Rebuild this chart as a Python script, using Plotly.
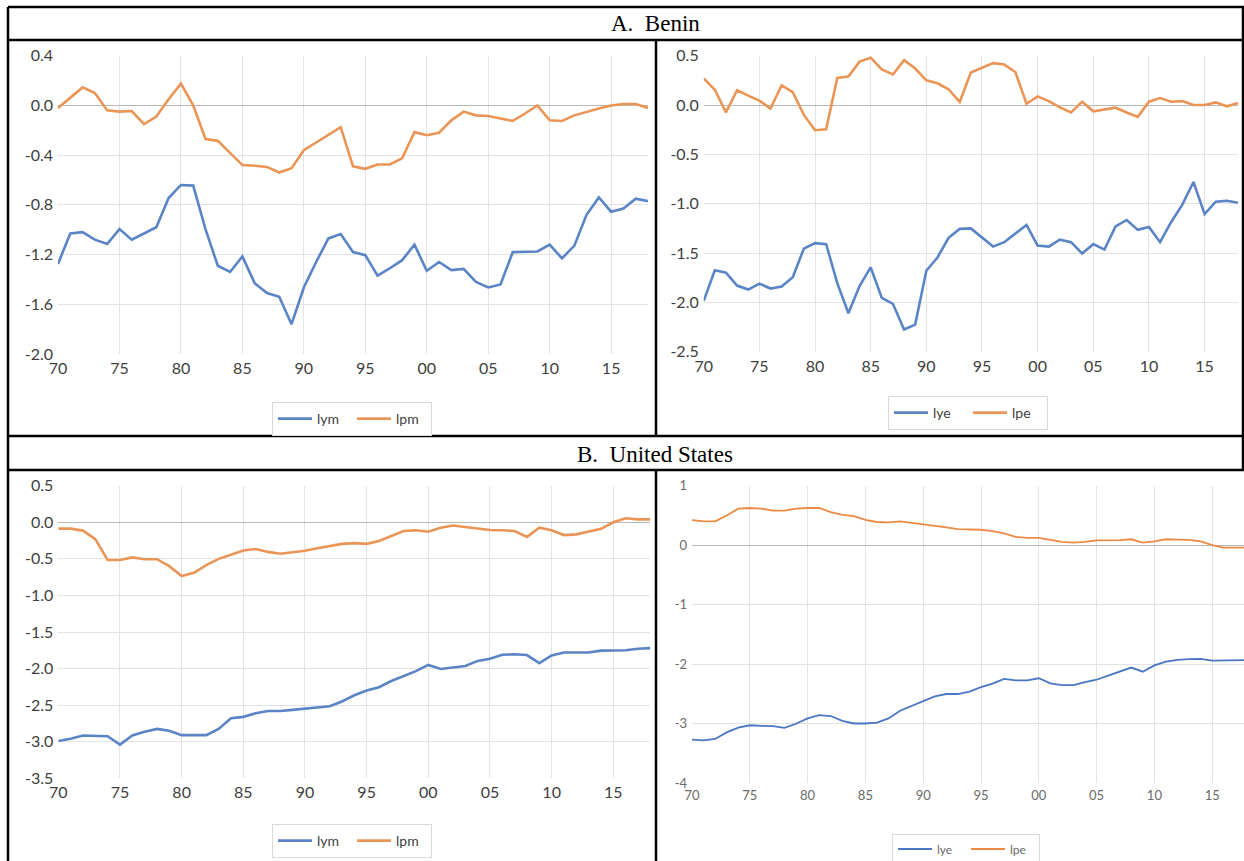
import plotly.graph_objects as go

W, H = 1244, 861

years = list(range(1970, 2019))

# Panel A (Benin), left: lym / lpm
benin_lym = [-1.275, -1.03, -1.02, -1.08, -1.115, -0.995, -1.08, -1.03, -0.98, -0.745,
             -0.64, -0.645, -0.995, -1.29, -1.34, -1.215, -1.43, -1.51, -1.54, -1.76,
             -1.465, -1.26, -1.07, -1.035, -1.18, -1.205, -1.37, -1.31, -1.245, -1.12,
             -1.33, -1.26, -1.325, -1.315, -1.42, -1.465, -1.44, -1.18, -1.175, -1.175,
             -1.12, -1.23, -1.13, -0.88, -0.74, -0.855, -0.83, -0.75, -0.77]
benin_lpm = [-0.02, 0.065, 0.145, 0.10, -0.04, -0.05, -0.045, -0.15, -0.09, 0.05,
             0.175, 0.0, -0.27, -0.285, -0.38, -0.48, -0.485, -0.495, -0.54, -0.505,
             -0.36, -0.30, -0.24, -0.175, -0.49, -0.51, -0.475, -0.475, -0.425, -0.215,
             -0.24, -0.22, -0.12, -0.05, -0.08, -0.085, -0.105, -0.125, -0.065, 0.0,
             -0.12, -0.125, -0.08, -0.05, -0.025, 0.0, 0.012, 0.012, -0.02]

# Panel A (Benin), right: lye / lpe
benin_lye = [-1.985, -1.675, -1.70, -1.83, -1.87, -1.81, -1.86, -1.84, -1.745, -1.455,
             -1.40, -1.41, -1.805, -2.11, -1.835, -1.645, -1.955, -2.015, -2.275, -2.225,
             -1.68, -1.545, -1.345, -1.255, -1.25, -1.345, -1.435, -1.39, -1.305, -1.215,
             -1.425, -1.435, -1.365, -1.39, -1.505, -1.41, -1.465, -1.23, -1.165, -1.265,
             -1.235, -1.39, -1.185, -1.01, -0.78, -1.105, -0.98, -0.97, -0.99]
benin_lpe = [0.27, 0.155, -0.075, 0.15, 0.095, 0.045, -0.035, 0.20, 0.13, -0.10,
             -0.255, -0.245, 0.275, 0.29, 0.44, 0.48, 0.36, 0.31, 0.455, 0.37,
             0.25, 0.22, 0.16, 0.03, 0.33, 0.38, 0.425, 0.41, 0.335, 0.013,
             0.088, 0.04, -0.024, -0.075, 0.034, -0.064, -0.044, -0.027, -0.075, -0.12,
             0.034, 0.07, 0.034, 0.04, 0.0, 0.0, 0.027, -0.013, 0.02]

# Panel B (United States), left: lym / lpm
us_lym = [-2.99, -2.96, -2.915, -2.915, -2.925, -3.04, -2.915, -2.865, -2.825, -2.85,
          -2.91, -2.91, -2.91, -2.825, -2.68, -2.66, -2.61, -2.58, -2.58, -2.565,
          -2.55, -2.54, -2.515, -2.45, -2.365, -2.30, -2.255, -2.17, -2.105, -2.035,
          -1.95, -2.005, -1.985, -1.965, -1.895, -1.865, -1.81, -1.805, -1.815, -1.925,
          -1.82, -1.78, -1.78, -1.78, -1.755, -1.75, -1.75, -1.73, -1.72]
us_lpm = [-0.087, -0.087, -0.114, -0.23, -0.515, -0.515, -0.48, -0.505, -0.505, -0.60,
          -0.735, -0.69, -0.585, -0.50, -0.445, -0.385, -0.365, -0.405, -0.43, -0.41,
          -0.39, -0.355, -0.325, -0.295, -0.285, -0.295, -0.255, -0.19, -0.12, -0.11,
          -0.13, -0.075, -0.045, -0.065, -0.09, -0.105, -0.11, -0.12, -0.20, -0.075,
          -0.11, -0.175, -0.165, -0.125, -0.09, 0.0, 0.055, 0.04, 0.04]

# Panel B (United States), right: lye / lpe
us_lye = [-3.265, -3.28, -3.255, -3.145, -3.065, -3.025, -3.035, -3.04, -3.07, -3.0,
          -2.91, -2.855, -2.87, -2.95, -2.995, -2.995, -2.98, -2.91, -2.78, -2.70,
          -2.61, -2.54, -2.50, -2.50, -2.46, -2.385, -2.325, -2.245, -2.27, -2.27,
          -2.235, -2.32, -2.35, -2.35, -2.30, -2.26, -2.19, -2.125, -2.055, -2.125,
          -2.02, -1.955, -1.925, -1.915, -1.91, -1.94, -1.935, -1.935, -1.93]
us_lpe = [0.42, 0.40, 0.40, 0.50, 0.615, 0.625, 0.615, 0.58, 0.58, 0.615,
          0.625, 0.625, 0.555, 0.51, 0.49, 0.425, 0.39, 0.385, 0.40, 0.375,
          0.36, 0.325, 0.30, 0.27, 0.27, 0.26, 0.235, 0.20, 0.14, 0.125,
          0.125, 0.09, 0.055, 0.045, 0.055, 0.08, 0.08, 0.085, 0.10, 0.045,
          0.065, 0.10, 0.095, 0.09, 0.065, 0.0, -0.04, -0.04, -0.04]

x_tickvals = [1970, 1975, 1980, 1985, 1990, 1995, 2000, 2005, 2010, 2015]
x_ticktext = ["70", "75", "80", "85", "90", "95", "00", "05", "10", "15"]

y1_vals = [0.4, 0.0, -0.4, -0.8, -1.2, -1.6, -2.0]
y1_text = ["0.4", "0.0", "-0.4", "-0.8", "-1.2", "-1.6", "-2.0"]
y2_vals = [0.5, 0.0, -0.5, -1.0, -1.5, -2.0, -2.5]
y2_text = ["0.5", "0.0", "-0.5", "-1.0", "-1.5", "-2.0", "-2.5"]
y3_vals = [0.5, 0.0, -0.5, -1.0, -1.5, -2.0, -2.5, -3.0, -3.5]
y3_text = ["0.5", "0.0", "-0.5", "-1.0", "-1.5", "-2.0", "-2.5", "-3.0", "-3.5"]
y4_vals = [1, 0, -1, -2, -3, -4]
y4_text = ["1", "0", "-1", "-2", "-3", "-4"]

BLUE = "#5b84c6"
ORANGE = "#ea9556"
BLUE4 = "#4a76c4"
ORANGE4 = "#ec8a45"


def px(x):
    return x / W


def py(y):
    return 1 - y / H


fig = go.Figure()

panels = [
    ("", (58, 648), [1970, 2018], (55.7, 354), [-2.0, 0.4], y1_vals, y1_text,
     [("lym", benin_lym, BLUE), ("lpm", benin_lpm, ORANGE)], "legend", 16, "#404040", 2.6),
    ("2", (703.7, 1238), [1970, 2018], (55.7, 351.7), [-2.5, 0.5], y2_vals, y2_text,
     [("lye", benin_lye, BLUE), ("lpe", benin_lpe, ORANGE)], "legend2", 16, "#404040", 2.6),
    ("3", (58.3, 650.3), [1970, 2018], (485.7, 778.3), [-3.5, 0.5], y3_vals, y3_text,
     [("lym", us_lym, BLUE), ("lpm", us_lpm, ORANGE)], "legend3", 16, "#404040", 2.6),
    ("4", (692, 1244), [1970, 1970 + (1244 - 692) / 11.56], (485.7, 783.3), [-4, 1], y4_vals, y4_text,
     [("lye", us_lye, BLUE4), ("lpe", us_lpe, ORANGE4)], "legend4", 13, "#6a6a6a", 1.8),
]

layout_axes = {}
for sid, xd, xr, yd, yr, yv, yt, series, leg, fs, fc, lw in panels:
    xa = "x" + sid
    ya = "y" + sid
    for name, vals, col in series:
        fig.add_trace(go.Scatter(x=years, y=vals, mode="lines", name=name,
                                 line=dict(color=col, width=lw),
                                 xaxis=xa, yaxis=ya, legend=leg))
    layout_axes["xaxis" + sid] = dict(
        domain=[px(xd[0]), px(xd[1])], range=xr, anchor=ya, automargin=False,
        tickvals=x_tickvals, ticktext=x_ticktext, showgrid=True,
        gridcolor="#e3e3e3", gridwidth=1, zeroline=False, showline=False,
        ticks="", ticklabelstandoff=3, tickfont=dict(family="Lato", size=fs, color=fc),
    )
    layout_axes["yaxis" + sid] = dict(
        domain=[py(yd[1]), py(yd[0])], range=yr, anchor=xa, automargin=False,
        tickvals=yv, ticktext=yt, showgrid=True, gridcolor="#e3e3e3", gridwidth=1,
        zeroline=True, zerolinecolor="#b8b8b8", zerolinewidth=1, showline=False,
        ticks="", ticklabelstandoff=4,
        tickfont=dict(family="Lato", size=fs, color=fc),
    )

legend_common = dict(orientation="h", xanchor="center", yanchor="middle",
                     bgcolor="white", bordercolor="#d9d9d9", borderwidth=1,
                     font=dict(family="Lato", size=14, color="#404040"),
                     itemwidth=34, entrywidth=30, tracegroupgap=0)

fig.update_layout(
    width=W, height=H, autosize=False,
    margin=dict(l=0, r=0, t=0, b=0, pad=0, autoexpand=False),
    paper_bgcolor="white", plot_bgcolor="white",
    showlegend=True,
    legend=dict(x=px(352), y=py(419), **legend_common),
    legend2=dict(x=px(968), y=py(413), **legend_common),
    legend3=dict(x=px(352), y=py(841), **legend_common),
    legend4=dict(x=px(966), y=py(849),
                 **{**legend_common, "entrywidth": 24,
                    "font": dict(family="Lato", size=12, color="#6a6a6a")}),
    **layout_axes,
)

# table borders
lines = [
    (8, 7, 1244, 7), (8, 7, 8, 861), (1243, 7, 1243, 470),
    (8, 40, 1244, 40), (656, 40, 656, 436), (8, 436, 1244, 436),
    (8, 470, 1244, 470), (656, 470, 656, 861),
]
for x0, y0, x1, y1 in lines:
    fig.add_shape(type="line", xref="paper", yref="paper",
                  x0=px(x0), y0=py(y0), x1=px(x1), y1=py(y1),
                  line=dict(color="black", width=2.5))

fig.add_annotation(text="A.\u00a0\u00a0Benin", xref="paper", yref="paper",
                   x=px(655), y=py(24), showarrow=False, xanchor="center", yanchor="middle",
                   font=dict(family="Liberation Serif", size=23, color="black"))
fig.add_annotation(text="B.\u00a0\u00a0United States", xref="paper", yref="paper",
                   x=px(655), y=py(454), showarrow=False, xanchor="center", yanchor="middle",
                   font=dict(family="Liberation Serif", size=23, color="black"))

fig.write_html(
    "out.html",
    config={"displayModeBar": False},
    post_script="document.body.style.margin='0';document.body.style.overflow='hidden';",
)
